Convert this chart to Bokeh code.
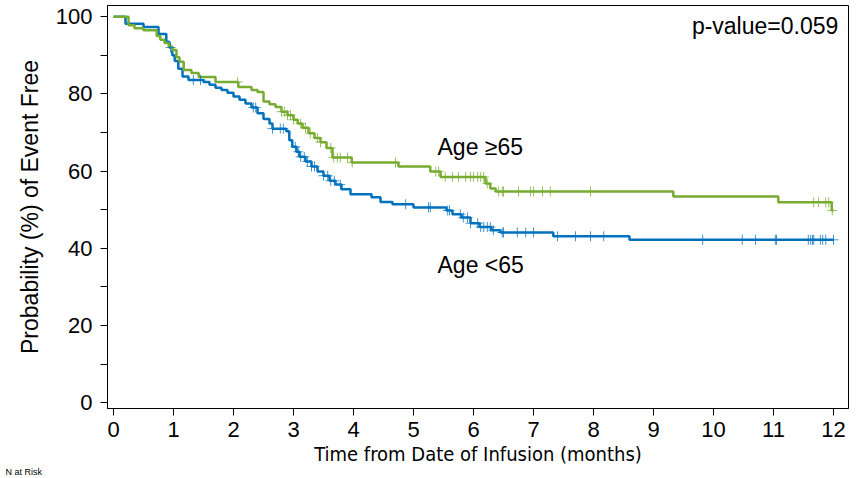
import numpy as np
from bokeh.plotting import figure
from bokeh.models import Range1d, FixedTicker, Label, ColumnDataSource
from bokeh.embed import file_html
from bokeh.resources import INLINE

# ---- data ----
young_t = [0, 0.2, 0.5, 0.75, 0.88, 0.93, 0.98, 1.02, 1.08, 1.15, 1.25, 1.5, 1.6, 1.7, 1.8,
           1.9, 2.0, 2.1, 2.2, 2.3, 2.4, 2.5, 2.6, 2.65, 2.88, 2.93, 2.98, 3.05, 3.1, 3.2,
           3.3, 3.4, 3.5, 3.6, 3.7, 3.8, 3.95, 4.3, 4.45, 4.65, 5.0, 5.55, 5.65, 5.8,
           5.95, 6.1, 6.3, 6.45, 7.33, 8.6]
young_s = [100, 98.2, 97.3, 95.5, 93.5, 92.0, 90.0, 88.5, 86.5, 84.5, 83.6, 83.1, 82.4, 81.6, 81.0,
           80.3, 79.3, 78.5, 77.5, 76.5, 75.0, 73.5, 72.3, 71.0, 70.3, 68.0, 66.3, 65.0, 63.7, 62.5,
           61.2, 59.9, 58.8, 57.5, 56.5, 55.3, 54.0, 53.2, 52.0, 51.4, 50.6, 49.8, 48.8, 48.0,
           46.5, 45.5, 44.7, 44.1, 43.1, 42.2]
young_cens = [0.95, 1.33, 1.45, 2.33, 2.37, 2.65, 2.78, 2.83, 3.03, 3.08, 3.12, 3.18, 3.23, 3.3,
              3.35, 3.5, 3.57, 3.62, 3.68, 3.78, 4.87, 5.25, 5.28, 5.57, 5.6, 5.78, 5.83, 5.9,
              5.95, 6.07, 6.12, 6.17, 6.23, 6.28, 6.33, 6.48, 6.5, 6.73, 6.87, 7.0, 7.4, 7.7,
              7.95, 8.17, 9.82, 10.48, 10.7, 11.03, 11.05, 11.58, 11.62, 11.65, 11.67, 11.78,
              11.82, 11.87, 12.0]

old_t = [0, 0.25, 0.35, 0.5, 0.72, 0.78, 0.85, 0.92, 0.98, 1.05, 1.1, 1.17, 1.3, 1.42, 1.7,
         2.08, 2.3, 2.4, 2.5, 2.6, 2.7, 2.8, 2.9, 3.0, 3.07, 3.15, 3.25, 3.35, 3.45, 3.55,
         3.65, 3.97, 4.75, 5.28, 5.45, 6.2, 6.28, 6.37, 9.33, 11.08, 11.97]
old_s = [100, 97.8, 97.0, 96.5, 95.0, 94.0, 93.2, 92.3, 91.4, 89.5, 88.3, 86.2, 85.4, 84.4, 83.1,
         81.8, 81.0, 80.5, 78.0, 77.3, 76.6, 75.4, 74.5, 73.3, 72.3, 71.2, 69.8, 68.6, 67.5, 66.0,
         63.5, 62.2, 61.2, 59.9, 58.5, 56.8, 55.5, 54.7, 53.4, 51.9, 49.8]
old_cens = [2.07, 2.8, 2.85, 2.9, 2.95, 3.0, 3.12, 3.2, 3.28, 3.4, 3.45, 3.62, 3.67, 3.73, 3.78,
            3.9, 3.98, 4.7, 5.37, 5.42, 5.53, 5.65, 5.75, 5.87, 5.95, 6.0, 6.07, 6.12, 6.17,
            6.23, 6.42, 6.48, 6.5, 6.75, 6.95, 7.0, 7.15, 7.28, 7.95, 11.67, 11.75, 11.87,
            11.92, 11.98]

x_ticks = list(range(0, 13))
y_ticks = [0, 20, 40, 60, 80, 100]
y_minor = [10, 30, 50, 70, 90]

BLUE = "#0072BD"
GREEN = "#77AC30"


def km_value(times, surv, at):
    idx = np.searchsorted(np.asarray(times), np.asarray(at), side="right") - 1
    return np.asarray(surv)[idx]


p = figure(width=859, height=478, output_backend="svg", toolbar_location=None,
           x_range=Range1d(-0.1, 12.25), y_range=Range1d(-1.5, 102.9),
           min_border_left=107, min_border_right=11, min_border_top=5, min_border_bottom=68)
p.background_fill_color = "white"
p.border_fill_color = "white"
p.outline_line_color = "black"
p.outline_line_width = 1
p.xgrid.visible = False
p.ygrid.visible = False

# curves extended to 12 months
yt = young_t + [12.0]
ys = young_s + [young_s[-1]]
ot = old_t + [12.0]
os_ = old_s + [old_s[-1]]

p.step(yt, ys, mode="after", line_color=BLUE, line_width=2.5)
p.step(ot, os_, mode="after", line_color=GREEN, line_width=2.5)

yc = ColumnDataSource(dict(t=young_cens, s=km_value(yt, ys, young_cens)))
oc = ColumnDataSource(dict(t=old_cens, s=km_value(ot, os_, old_cens)))
p.scatter("t", "s", source=yc, marker="cross", size=10, line_color=BLUE, line_width=1, line_alpha=0.75)
p.scatter("t", "s", source=oc, marker="cross", size=10, line_color=GREEN, line_width=1, line_alpha=0.75)

# axes
xa = p.xaxis[0]
xa.ticker = FixedTicker(ticks=x_ticks)
xa.axis_label = "Time from Date of Infusion (months)"
xa.axis_label_text_font = "DejaVu Sans Condensed"
xa.axis_label_text_font_size = "20px"
xa.axis_label_text_font_style = "normal"
xa.axis_label_text_color = "black"
xa.axis_label_standoff = 2
xa.major_label_text_font = "Liberation Sans"
xa.major_label_text_font_size = "22px"
xa.major_label_text_color = "black"
xa.major_label_standoff = 6
xa.major_tick_out = 7
xa.major_tick_in = 0
xa.minor_tick_out = 0
xa.axis_line_color = "black"
xa.major_tick_line_color = "black"

ya = p.yaxis[0]
ya.ticker = FixedTicker(ticks=y_ticks, minor_ticks=y_minor)
ya.axis_label = "Probability (%) of Event Free"
ya.axis_label_text_font = "Liberation Sans"
ya.axis_label_text_font_size = "23px"
ya.axis_label_text_font_style = "normal"
ya.axis_label_text_color = "black"
ya.axis_label_standoff = 10
ya.major_label_text_font = "Liberation Sans"
ya.major_label_text_font_size = "22px"
ya.major_label_text_color = "black"
ya.major_label_standoff = 8
ya.major_tick_out = 7
ya.major_tick_in = 0
ya.minor_tick_out = 7
ya.minor_tick_in = 0
ya.axis_line_color = "black"
ya.major_tick_line_color = "black"
ya.minor_tick_line_color = "black"

# annotations
p.add_layout(Label(x=12.08, y=97.5, text="p-value=0.059", text_align="right",
                   text_baseline="alphabetic", text_font="Liberation Sans",
                   text_font_size="23px", text_color="black"))
p.add_layout(Label(x=5.4, y=66.2, text="Age \u226565", text_align="left",
                   text_baseline="alphabetic", text_font="Liberation Sans",
                   text_font_size="23px", text_color="black"))
p.add_layout(Label(x=5.4, y=35.8, text="Age <65", text_align="left",
                   text_baseline="alphabetic", text_font="Liberation Sans",
                   text_font_size="23px", text_color="black"))
p.add_layout(Label(x=-102, y=12, x_units="screen", y_units="screen", text="N at Risk",
                   text_align="left", text_baseline="top", text_font="Liberation Sans",
                   text_font_size="9px", text_color="black"), "below")

open("out.html", "w").write(file_html(p, INLINE))
